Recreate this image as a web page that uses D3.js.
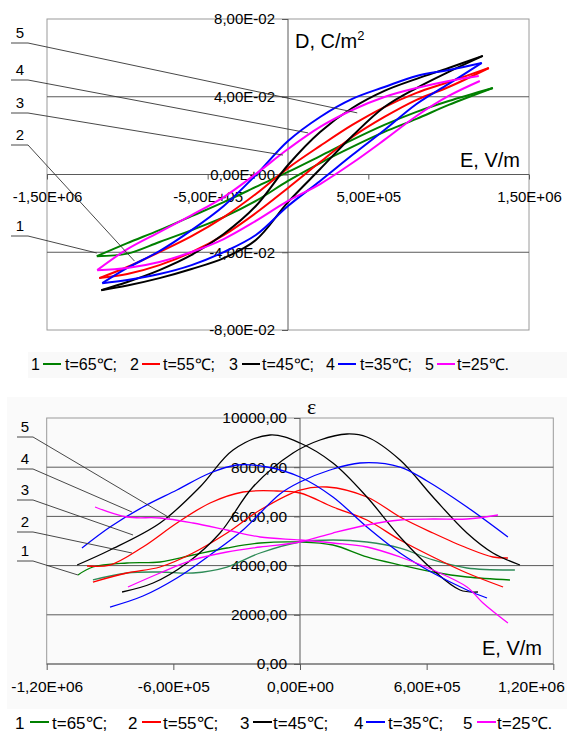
<!DOCTYPE html>
<html>
<head>
<meta charset="utf-8">
<script src="https://cdn.jsdelivr.net/npm/d3@7"></script>
<style>
body { margin: 0; background: #fff; }
svg { display: block; font-family: "Liberation Sans", Arial, sans-serif; }
</style>
</head>
<body>
<div id="chart"></div>
<script>
// ---------- data: hysteresis loops D(E), top chart ----------
// shared field grid (V/m), D values in C/m2
const gridE = [-1.0e6, -8e5, -6e5, -4e5, -2e5, 0, 2e5, 4e5, 6e5, 8e5, 1.0e6];

const up65 = [-0.0353, -0.0286, -0.0214, -0.0142, -0.0064, 0.0013, 0.0095, 0.0178, 0.0255, 0.0322, 0.0378];
const lo65 = [-0.0407, -0.0347, -0.0286, -0.0219, -0.0136, -0.0033, 0.0059, 0.0142, 0.0219, 0.0286, 0.0358];
const tips65 = [[-1.19e6, -0.0420], [1.275e6, 0.0445], [1.275e6, 0.0445]];

const up55 = [-0.0476, -0.0399, -0.0317, -0.0219, -0.0100, 0.0033, 0.0147, 0.0255, 0.0347, 0.0420, 0.0476];
const lo55 = [-0.0512, -0.0466, -0.0400, -0.0312, -0.0198, -0.0069, 0.0064, 0.0193, 0.0296, 0.0384, 0.0450];
const tips55 = [[-1.175e6, -0.0533], [1.25e6, 0.0548], [1.25e6, 0.0548]];

const up45 = [-0.0553, -0.0492, -0.0414, -0.0306, -0.0162, 0.0049, 0.0219, 0.0342, 0.0430, 0.0492, 0.0548];
const lo45 = [-0.0571, -0.0533, -0.0486, -0.0430, -0.0337, -0.0142, 0.0028, 0.0198, 0.0347, 0.0445, 0.0528];
const tips45 = [[-1.1625e6, -0.0595], [1.2125e6, 0.0610], [1.2125e6, 0.0610]];

const up35 = [-0.0481, -0.0394, -0.0286, -0.0162, -0.0003, 0.0172, 0.0296, 0.0389, 0.0450, 0.0507, 0.0538];
const lo35 = [-0.0543, -0.0512, -0.0466, -0.0399, -0.0311, -0.0162, -0.0033, 0.0100, 0.0229, 0.0363, 0.0466];
const tips35 = [[-1.156e6, -0.0559], [1.206e6, 0.0574], [1.206e6, 0.0574]];

const up25 = [-0.0384, -0.0296, -0.0209, -0.0116, 0.0003, 0.0131, 0.0245, 0.0332, 0.0399, 0.0445, 0.0481];
const lo25 = [-0.0481, -0.0450, -0.0399, -0.0332, -0.0239, -0.0136, -0.0049, 0.0059, 0.0178, 0.0301, 0.0404];
const tips25 = [[-1.1875e6, -0.0492], [1.1875e6, 0.0507], [1.194e6, 0.0481]];

// ---------- data: permittivity eps(E), bottom chart, two sweeps per temperature ----------
const eps65a = [[-1.052e6, 3618], [-9.81e5, 3943], [-8.2e5, 4106], [-6.63e5, 4147], [-5.07e5, 4431], [-3.46e5, 4715], [-1.89e5, 4919], [0, 4959], [1.56e5, 4837], [3.17e5, 4350], [4.74e5, 4024], [6.3e5, 3740], [7.91e5, 3537], [9.95e5, 3415]];
const eps65b = [[-9.81e5, 3415], [-8.2e5, 3699], [-6.63e5, 3740], [-5.07e5, 3699], [-3.46e5, 3943], [-1.89e5, 4512], [0, 4959], [1.56e5, 5041], [3.17e5, 4959], [4.74e5, 4715], [6.3e5, 4228], [7.91e5, 3902], [1.018e6, 3821]];
const eps55a = [[-1.009e6, 3984], [-9.0e5, 4024], [-7.44e5, 4756], [-5.83e5, 5732], [-4.26e5, 6545], [-2.70e5, 6992], [-1.09e5, 7033], [0, 6951], [1.56e5, 6382], [3.17e5, 5854], [4.74e5, 5041], [6.3e5, 4350], [7.91e5, 3699], [9.62e5, 3130]];
const eps55b = [[-9.81e5, 3333], [-8.2e5, 3699], [-6.63e5, 3943], [-5.07e5, 4512], [-3.46e5, 5325], [-1.89e5, 6260], [0, 7073], [1.28e5, 7195], [3.17e5, 6789], [4.74e5, 5976], [6.3e5, 5325], [7.91e5, 4715], [9.14e5, 4350], [9.85e5, 4309]];
const eps45a = [[-1.056e6, 4024], [-9.0e5, 4634], [-6.63e5, 5732], [-4.74e5, 7195], [-3.17e5, 8699], [-1.42e5, 9309], [0, 8984], [1.56e5, 8171], [3.17e5, 6789], [4.74e5, 5163], [6.3e5, 3821], [7.58e5, 3008], [8.43e5, 2927]];
const eps45b = [[-8.43e5, 2927], [-6.96e5, 3293], [-5.35e5, 4106], [-3.79e5, 5325], [-2.23e5, 7195], [-3.3e4, 8577], [9.5e4, 9106], [2.23e5, 9350], [3.17e5, 9228], [4.74e5, 8293], [6.3e5, 6789], [7.91e5, 5325], [9.14e5, 4512], [1.042e6, 4024]];
const eps35a = [[-1.033e6, 4715], [-9.0e5, 5569], [-7.44e5, 6382], [-5.83e5, 7073], [-4.26e5, 7764], [-2.98e5, 8089], [-1.56e5, 8008], [0, 7602], [1.56e5, 6789], [3.17e5, 5569], [4.74e5, 4512], [6.3e5, 3699], [7.91e5, 3008], [8.86e5, 2683]];
const eps35b = [[-9.0e5, 2317], [-7.44e5, 2764], [-5.83e5, 3496], [-4.26e5, 4431], [-2.70e5, 5447], [-9.5e4, 6911], [0, 7398], [1.42e5, 7886], [2.84e5, 8171], [4.74e5, 8008], [6.02e5, 7439], [7.91e5, 6382], [9.85e5, 5163]];
const eps25a = [[-9.71e5, 6382], [-8.2e5, 5976], [-6.63e5, 5935], [-5.07e5, 5732], [-3.46e5, 5447], [-1.89e5, 5163], [0, 5041], [1.56e5, 4918], [3.17e5, 4756], [4.74e5, 4350], [6.3e5, 3821], [7.91e5, 3130], [8.67e5, 2480], [9.85e5, 1667]];
const eps25b = [[-8.15e5, 3130], [-6.63e5, 3699], [-5.07e5, 4228], [-3.46e5, 4553], [-1.89e5, 4756], [0, 4959], [1.56e5, 5325], [3.17e5, 5650], [4.74e5, 5854], [6.3e5, 5894], [7.91e5, 5894], [9.38e5, 6057]];

const curveNums = ["1", "2", "3", "4", "5"];
const curveNames = ["t=65℃;", "t=55℃;", "t=45℃;", "t=35℃;", "t=25℃."];
const curveColors = ["#008000", "#ff0000", "#000000", "#0000ff", "#ff00ff"];

// where the numbered leader lines point to (data coords)
const topLeaderEnds = [[-1.19e6, -0.0404], [-9.56e5, -0.0445], [-3.1e4, 0.0100], [1.25e5, 0.0214], [4.31e5, 0.0317]];
const botLeaderEnds = [[-1.052e6, 3618], [-7.96e5, 4512], [-7.91e5, 5244], [-7.96e5, 6179], [-6.16e5, 5935]];

const topTicksY = [-0.08, -0.04, 0, 0.04, 0.08];
const topTicksX = [-1.5e6, -5e5, 5e5, 1.5e6];
const botTicksY = [0, 2000, 4000, 6000, 8000, 10000];
const botTicksX = [-1.2e6, -6e5, 0, 6e5, 1.2e6];

// ---------- helpers ----------
const sci = (v) => {
    let [m, e] = v.toExponential(2).split("e");
    let sign = e[0] === "-" ? "-" : "+";
    return m.replace(".", ",") + "E" + sign + e.replace(/[+-]/, "").padStart(2, "0");
};
const fixed2 = (v) => v.toFixed(2).replace(".", ",");

const svg = d3.select("#chart").append("svg")
    .attr("width", 567)
    .attr("height", 734);

// faint backgrounds of the original screenshot
svg.append("rect").attr("x", 7).attr("y", 397).attr("width", 560).attr("height", 312).attr("fill", "#fafafa");
svg.append("rect").attr("x", 28).attr("y", 352).attr("width", 539).attr("height", 26).attr("fill", "#f9f9f9");

const gridColor = "#5a5a5a";
const frameColor = "#9a9a9a";

// ================= TOP: D(E) =================
const xTop = d3.scaleLinear().domain([-1.5e6, 1.5e6]).range([47, 529]);
const yTop = d3.scaleLinear().domain([-0.08, 0.08]).range([330, 19]);

let topG = svg.append("g");

topG.append("rect")
    .attr("x", xTop(-1.5e6)).attr("y", yTop(0.08))
    .attr("width", xTop(1.5e6) - xTop(-1.5e6))
    .attr("height", yTop(-0.08) - yTop(0.08))
    .attr("fill", "none").attr("stroke", frameColor);

topG.selectAll(".hgrid").data([-0.04, 0, 0.04]).enter().append("line")
    .attr("class", "hgrid")
    .attr("x1", xTop(-1.5e6)).attr("x2", xTop(1.5e6))
    .attr("y1", d => yTop(d)).attr("y2", d => yTop(d))
    .attr("stroke", gridColor);

topG.append("line")
    .attr("x1", xTop(0)).attr("x2", xTop(0))
    .attr("y1", yTop(0.08)).attr("y2", yTop(-0.08))
    .attr("stroke", gridColor);

let axTopY = topG.append("g")
    .attr("transform", `translate(${xTop(0)},0)`)
    .call(d3.axisLeft(yTop).tickValues(topTicksY).tickSize(6).tickPadding(7).tickFormat(sci));
let axTopX = topG.append("g")
    .attr("transform", `translate(0,${yTop(0)})`)
    .call(d3.axisBottom(xTop).tickValues(topTicksX).tickSize(5).tickPadding(12).tickFormat(sci));

[axTopY, axTopX].forEach(ax => {
    ax.select(".domain").remove();
    ax.selectAll("line").attr("stroke", gridColor);
    ax.selectAll("text").attr("fill", "#000").style("font-size", "15px").style("font-family", "'Liberation Sans', Arial, sans-serif");
});

// loops: lower branch from negative tip to positive tip, upper branch the same way
const loops = [
    { up: up65, lo: lo65, tips: tips65 },
    { up: up55, lo: lo55, tips: tips55 },
    { up: up45, lo: lo45, tips: tips45 },
    { up: up35, lo: lo35, tips: tips35 },
    { up: up25, lo: lo25, tips: tips25 }
];

let lineTop = d3.line()
    .x(d => xTop(d[0]))
    .y(d => yTop(d[1]))
    .curve(d3.curveCatmullRom.alpha(0.5));

loops.forEach((lp, i) => {
    let upper = [lp.tips[0], ...gridE.map((e, k) => [e, lp.up[k]]), lp.tips[1]];
    let lower = [lp.tips[0], ...gridE.map((e, k) => [e, lp.lo[k]]), lp.tips[2]];
    [lower, upper].forEach(branch => {
        topG.append("path")
            .attr("d", lineTop(branch))
            .attr("fill", "none")
            .attr("stroke", curveColors[i])
            .attr("stroke-width", 2)
            .attr("stroke-linejoin", "round");
    });
});

// axis titles
let dLabel = topG.append("text").attr("x", 295).attr("y", 48).style("font-size", "20px");
dLabel.append("tspan").text("D, C/m");
dLabel.append("tspan").attr("dy", -8).style("font-size", "13px").text("2");
topG.append("text").attr("x", 460).attr("y", 167).style("font-size", "20px").text("E, V/m");

// numbered leaders
const topLeaderY = [236, 145, 113, 80, 43];
topLeaderY.forEach((ly, i) => {
    let end = topLeaderEnds[i];
    topG.append("text").attr("x", 20).attr("y", ly - 5).attr("text-anchor", "middle")
        .style("font-size", "15px").text(curveNums[i]);
    topG.append("path")
        .attr("d", `M11,${ly}H28L${xTop(end[0])},${yTop(end[1])}`)
        .attr("fill", "none").attr("stroke", "#333").attr("stroke-width", 0.9);
});

// legend top
const legTopNum = [31, 130, 229, 326, 425];
const legTopLine = [43, 142, 242, 338, 437];
const legTopText = [65, 163, 262, 360, 457];
let legTop = topG.append("g").attr("transform", "translate(0,364)");
curveNames.forEach((nm, i) => {
    legTop.append("text").attr("x", legTopNum[i]).attr("y", 6).style("font-size", "16px").text(curveNums[i]);
    legTop.append("line").attr("x1", legTopLine[i]).attr("x2", legTopLine[i] + 18)
        .attr("y1", 0).attr("y2", 0).attr("stroke", curveColors[i]).attr("stroke-width", 2);
    legTop.append("text").attr("x", legTopText[i]).attr("y", 6).style("font-size", "16px").text(nm);
});

// ================= BOTTOM: eps(E) =================
const xBot = d3.scaleLinear().domain([-1.2e6, 1.2e6]).range([46.7, 553.3]);
const yBot = d3.scaleLinear().domain([0, 10000]).range([664, 418]);

let botG = svg.append("g");

botG.append("rect")
    .attr("x", xBot(-1.2e6)).attr("y", yBot(10000))
    .attr("width", xBot(1.2e6) - xBot(-1.2e6))
    .attr("height", yBot(0) - yBot(10000))
    .attr("fill", "none").attr("stroke", frameColor);

botG.selectAll(".hgrid").data([2000, 4000, 6000, 8000]).enter().append("line")
    .attr("class", "hgrid")
    .attr("x1", xBot(-1.2e6)).attr("x2", xBot(1.2e6))
    .attr("y1", d => yBot(d)).attr("y2", d => yBot(d))
    .attr("stroke", gridColor);

botG.append("line")
    .attr("x1", xBot(0)).attr("x2", xBot(0))
    .attr("y1", yBot(10000)).attr("y2", yBot(0))
    .attr("stroke", gridColor);
botG.append("line")
    .attr("x1", xBot(-1.2e6)).attr("x2", xBot(1.2e6))
    .attr("y1", yBot(0)).attr("y2", yBot(0))
    .attr("stroke", gridColor);

let axBotY = botG.append("g")
    .attr("transform", `translate(${xBot(0)},0)`)
    .call(d3.axisLeft(yBot).tickValues(botTicksY).tickSize(6).tickPadding(7).tickFormat(fixed2));
let axBotX = botG.append("g")
    .attr("transform", `translate(0,${yBot(0)})`)
    .call(d3.axisBottom(xBot).tickValues(botTicksX).tickSize(6).tickPadding(11).tickFormat(sci));

[axBotY, axBotX].forEach(ax => {
    ax.select(".domain").remove();
    ax.selectAll("line").attr("stroke", gridColor);
    ax.selectAll("text").attr("fill", "#000").style("font-size", "15.5px").style("font-family", "'Liberation Sans', Arial, sans-serif");
});
// last x label is pushed inside the page, as in the original
axBotX.selectAll(".tick").filter(d => d === 1.2e6).select("text")
    .attr("text-anchor", "end").attr("x", 11);

const sweeps = [
    { pts: eps65a, color: "#008000" }, { pts: eps65b, color: "#2e8b57" },
    { pts: eps55a, color: "#ff0000" }, { pts: eps55b, color: "#ff0000" },
    { pts: eps45a, color: "#000000" }, { pts: eps45b, color: "#000000" },
    { pts: eps35a, color: "#0000ff" }, { pts: eps35b, color: "#0000ff" },
    { pts: eps25a, color: "#ff00ff" }, { pts: eps25b, color: "#ff00ff" }
];

let lineBot = d3.line()
    .x(d => xBot(d[0]))
    .y(d => yBot(d[1]))
    .curve(d3.curveCatmullRom.alpha(0.5));

sweeps.forEach(s => {
    botG.append("path")
        .attr("d", lineBot(s.pts))
        .attr("fill", "none")
        .attr("stroke", s.color)
        .attr("stroke-width", 1.3);
});

botG.append("text").attr("x", 307).attr("y", 414).style("font-size", "22px")
    .style("font-family", "'Liberation Serif', serif").text("ε");
botG.append("text").attr("x", 482).attr("y", 655).style("font-size", "20px").text("E, V/m");

const botLeaderY = [561, 532, 500, 469, 437];
botLeaderY.forEach((ly, i) => {
    let end = botLeaderEnds[i];
    botG.append("text").attr("x", 25).attr("y", ly - 5).attr("text-anchor", "middle")
        .style("font-size", "15px").text(curveNums[i]);
    botG.append("path")
        .attr("d", `M17,${ly}H33L${xBot(end[0])},${yBot(end[1])}`)
        .attr("fill", "none").attr("stroke", "#333").attr("stroke-width", 0.9);
});

// legend bottom
const legBotNum = [15, 128, 240, 354, 463];
const legBotLine = [30, 142, 253, 366, 477];
const legBotText = [52, 163, 273, 388, 497];
let legBot = botG.append("g").attr("transform", "translate(0,722)");
curveNames.forEach((nm, i) => {
    legBot.append("text").attr("x", legBotNum[i]).attr("y", 7).style("font-size", "17px").text(curveNums[i]);
    legBot.append("line").attr("x1", legBotLine[i]).attr("x2", legBotLine[i] + 19)
        .attr("y1", 0).attr("y2", 0).attr("stroke", curveColors[i]).attr("stroke-width", 2);
    legBot.append("text").attr("x", legBotText[i]).attr("y", 7).style("font-size", "17px").text(nm);
});
</script>
</body>
</html>
